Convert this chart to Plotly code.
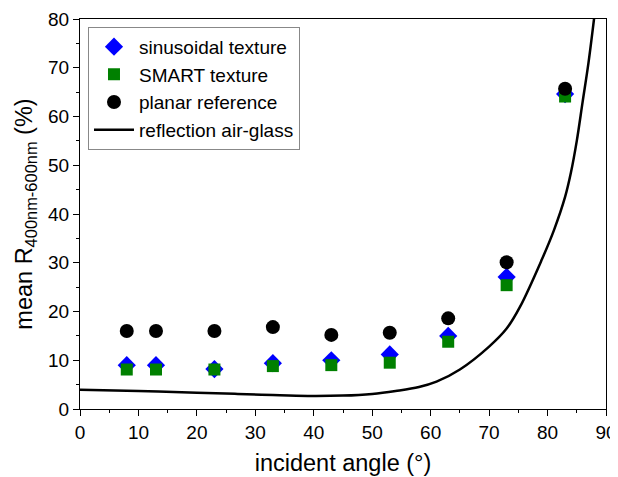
import plotly.graph_objects as go

angles = [8, 13, 23, 33, 43, 53, 63, 73, 83]
sinusoidal = [9.0, 9.0, 8.2, 9.4, 10.0, 11.2, 15.0, 27.1, 64.6]
smart = [8.1, 8.1, 8.1, 8.8, 9.0, 9.5, 13.8, 25.4, 64.1]
planar = [16.0, 16.0, 16.0, 16.8, 15.2, 15.65, 18.6, 30.1, 65.7]

curve_angle = [0, 10, 20, 27, 33, 39, 45, 50, 54, 58, 61, 65, 70, 73, 75.3, 79,
               81.1, 83, 84, 85, 86, 87, 88]
curve_R = [3.95, 3.7, 3.35, 3.1, 2.85, 2.67, 2.75, 3.1, 3.7, 4.5, 5.6, 8.1, 12.8,
           16.5, 21.0, 30.6, 36.7, 43.5, 48.5, 55.0, 63.0, 71.0, 80.5]

x_ticks = [0, 10, 20, 30, 40, 50, 60, 70, 80, 90]
y_ticks = [0, 10, 20, 30, 40, 50, 60, 70, 80]

FONT = "Arial, Liberation Sans, sans-serif"

fig = go.Figure()
fig.add_trace(go.Scatter(x=angles, y=sinusoidal, mode="markers", name="sinusoidal texture",
                         marker=dict(symbol="diamond", size=14, color="#0000FF")))
fig.add_trace(go.Scatter(x=angles, y=smart, mode="markers", name="SMART texture",
                         marker=dict(symbol="square", size=12, color="#008000")))
fig.add_trace(go.Scatter(x=angles, y=planar, mode="markers", name="planar reference",
                         marker=dict(symbol="circle", size=14, color="#000000")))
fig.add_trace(go.Scatter(x=curve_angle, y=curve_R, mode="lines", name="reflection air-glass",
                         line=dict(color="#000000", width=2.5, shape="spline", smoothing=1.0)))

axis_common = dict(showline=True, linecolor="#000000", linewidth=1.2, mirror=True,
                   ticks="outside", ticklen=6, tickcolor="#000000", tickwidth=1,
                   showgrid=False, zeroline=False, automargin=False,
                   tickfont=dict(family=FONT, size=19, color="#000000"))

# the page body adds an 8px offset, so the figure is sized to fit the window
fig.update_layout(
    width=610, height=469,
    margin=dict(l=72, r=12, t=11, b=68),
    paper_bgcolor="white", plot_bgcolor="white",
    font=dict(family=FONT, color="#000000"),
    showlegend=True,
    legend=dict(x=0.0152, y=0.98, xanchor="left", yanchor="top",
                bgcolor="white", bordercolor="#888888", borderwidth=1,
                font=dict(family=FONT, size=19, color="#000000"),
                itemwidth=40, tracegroupgap=0),
    xaxis=dict(range=[0, 90], tickvals=x_ticks, ticktext=[str(v) for v in x_ticks],
               minor=dict(ticks="outside", ticklen=3, dtick=5, tickcolor="#000000"),
               title=dict(text="incident angle (°)", font=dict(family=FONT, size=23.5),
                          standoff=12),
               **axis_common),
    yaxis=dict(range=[0, 80], tickvals=y_ticks, ticktext=[str(v) for v in y_ticks],
               minor=dict(ticks="outside", ticklen=3, dtick=5, tickcolor="#000000"),
               title=dict(text="mean R<sub>400nm-600nm</sub> (%)", font=dict(family=FONT, size=23.5),
                          standoff=8),
               **axis_common),
)

fig.write_html("out.html")
